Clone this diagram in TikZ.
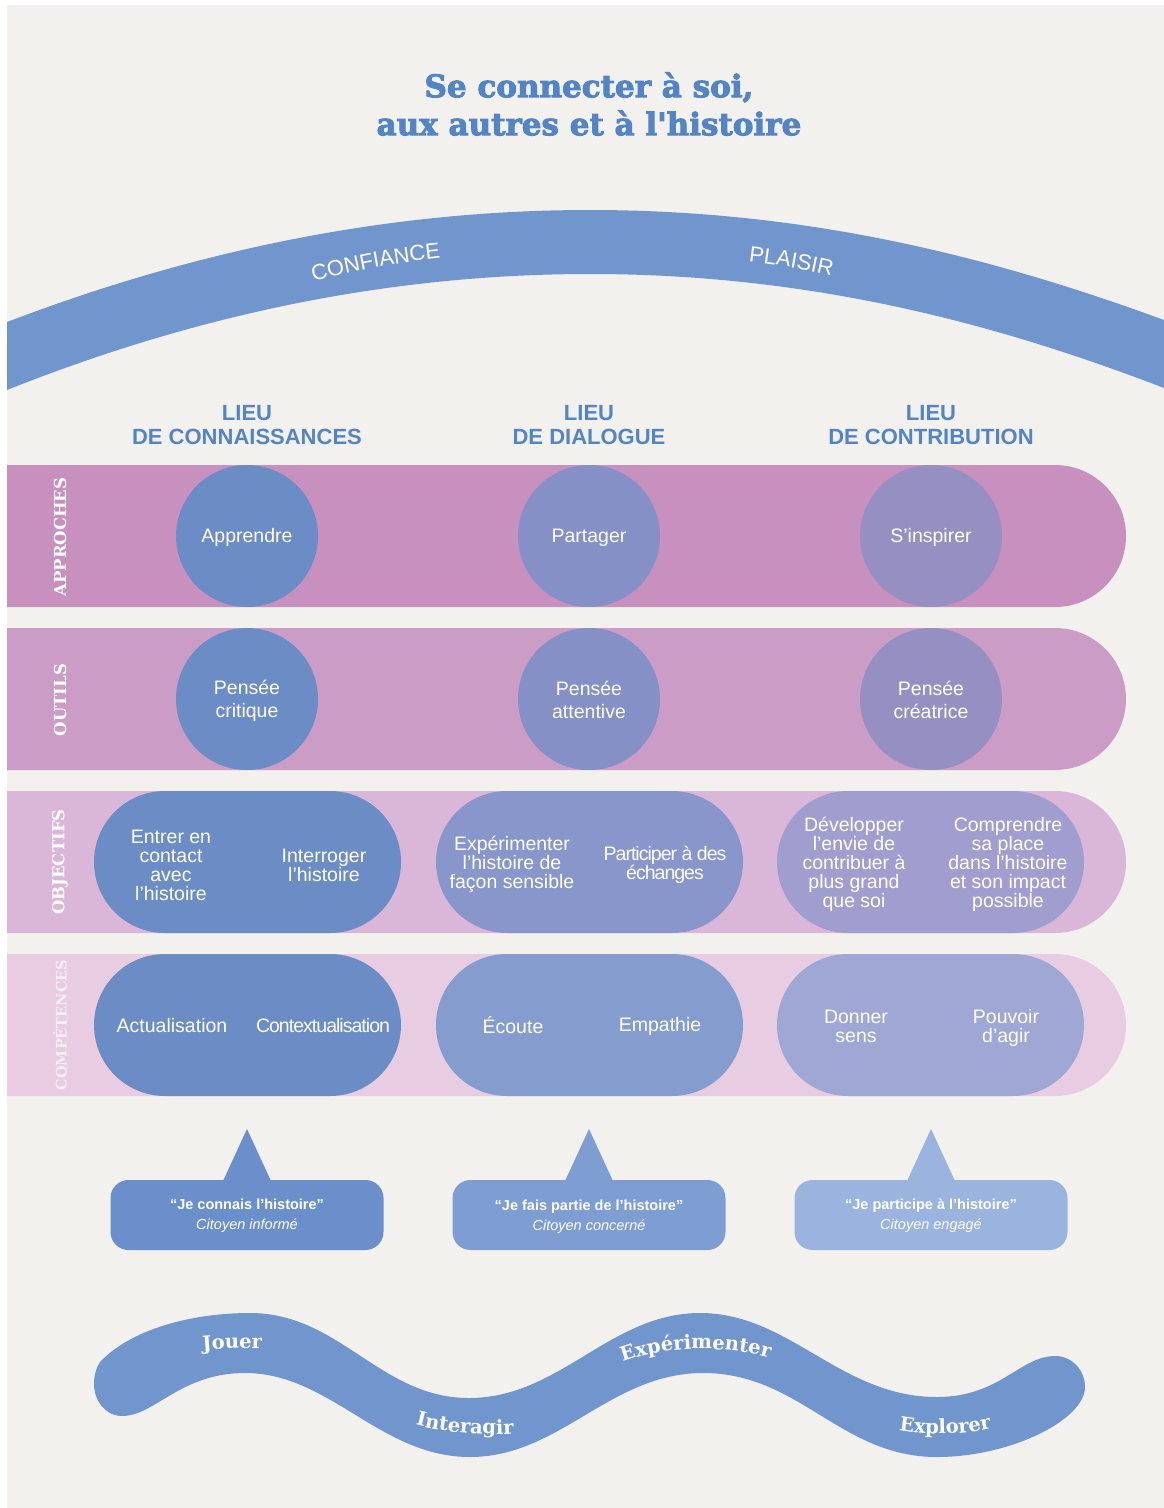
\documentclass[tikz,border=0pt]{standalone}
\usepackage{fontspec}
\setmainfont{Liberation Sans}
\newfontfamily\slabfont{DejaVu Serif}[BoldFont={DejaVu Serif Bold}]
\newfontfamily\titlefont{DejaVu Serif}[BoldFont={DejaVu Serif Bold},BoldFeatures={FakeBold=3}]
\usetikzlibrary{decorations.text}
\definecolor{paper}{HTML}{F3F1EE}
\definecolor{archblue}{HTML}{7196CD}
\definecolor{titleblue}{HTML}{5384C4}
\definecolor{rowa}{HTML}{C790BE}
\definecolor{rowb}{HTML}{CB9DC6}
\definecolor{rowc}{HTML}{DAB7D9}
\definecolor{rowd}{HTML}{E8CDE2}
\definecolor{cola}{HTML}{6B8CC5}
\definecolor{colb}{HTML}{8490C6}
\definecolor{colc}{HTML}{9690C2}
\definecolor{pillb}{HTML}{8896CC}
\definecolor{pillc}{HTML}{A09ECF}
\definecolor{compb}{HTML}{859CCF}
\definecolor{compc}{HTML}{9FA8D5}
\definecolor{calla}{HTML}{6B8FCB}
\definecolor{callb}{HTML}{7E9DD3}
\definecolor{callc}{HTML}{9AB4DF}
\newcommand{\hs}{\rule{0pt}{18pt}}
\newcommand{\ds}{\rule[-3pt]{0pt}{3pt}}
\newcommand{\tight}{\addfontfeature{LetterSpace=-5}}
\tikzset{
  x=1pt,y=-1pt,
  whitetext/.style={text=white,align=center,inner sep=0pt,font=\fontsize{19.5}{23}\selectfont},
  pilltext/.style={text=white,align=center,inner sep=0pt,font=\fontsize{19.5}{19}\selectfont},
  headtext/.style={text=titleblue,align=center,inner sep=0pt,font=\fontsize{22}{24}\selectfont\bfseries},
  rowlabel/.style={text=white,rotate=90,inner sep=0pt,font=\fontsize{16.5}{17}\slabfont\bfseries},
  disc/.style={circle,minimum size=142pt,inner sep=0pt,text=white,align=center,font=\fontsize{19.5}{23}\selectfont},
  calltext/.style={text=white,align=center,inner sep=0pt,font=\fontsize{14.5}{21}\selectfont},
  curvetext/.style={decorate},
}
\newcommand{\rowband}[3]{\fill[#1] (7,#2) [rounded corners=71pt] -- (1126,#2) -- (1126,#3) [sharp corners] -- (7,#3) -- cycle;}
\newcommand{\pillshape}[3]{\fill[#1,rounded corners=71pt] (#2,#3) rectangle ++(307,142);}
\newcommand{\bubble}[3]{\fill[#1] (#2,1129) -- (#2+24,1181) -- (#2-24,1181) -- cycle;
  \fill[#1,rounded corners=18pt] (#2-136.5,#3) rectangle (#2+136.5,1250);}
\newcommand{\qline}[1]{{\fontsize{14.5}{21}\selectfont\bfseries #1}}
\begin{document}
\begin{tikzpicture}
\useasboundingbox (0,0) rectangle (1164,1508);
\fill[white] (0,0) rectangle (1164,1508);
\fill[paper] (7,5) rectangle (1164,1508);

\node[align=center,inner sep=0pt,text=titleblue,font=\fontsize{31}{38}\titlefont\bfseries] (title) at (589,104) {Se connecter à soi,\\aux autres et à l'histoire};

% arch
\fill[archblue] (7,322) .. controls (175,258) and (370,210) .. (590,210)
  .. controls (810,210) and (995,258) .. (1164,320) -- (1164,388)
  .. controls (995,323) and (810,274) .. (590,274)
  .. controls (370,274) and (175,323) .. (7,390) -- cycle;
\path[curvetext,decoration={text along path,text align=center,text color=white,
  text={|\fontsize{22}{24}\selectfont|CONFIANCE}}] (300,286) .. controls (340,272) and (410,260) .. (455,257);
\path[curvetext,decoration={text along path,text align=center,text color=white,
  text={|\fontsize{22}{24}\selectfont|PLAISIR}}] (735,260) .. controls (770,263) and (810,270) .. (845,279);

\node[headtext] (h1) at (247,425) {LIEU\\DE CONNAISSANCES};
\node[headtext] (h2) at (589,425) {LIEU\\DE DIALOGUE};
\node[headtext] (h3) at (931,425) {LIEU\\DE CONTRIBUTION};

% bands
\rowband{rowa}{465}{607}
\rowband{rowb}{628}{770}
\rowband{rowc}{791}{933}
\rowband{rowd}{954}{1096}

\node[rowlabel] (l1) at (60,537) {APPROCHES};
\node[rowlabel] (l2) at (60,700) {OUTILS};
\node[rowlabel] (l3) at (60,862) {OBJECTIFS};
\node[rowlabel,text=white!65!rowd,font=\fontsize{14.5}{17}\slabfont\bfseries] (l4) at (60,1025) {COMPÉTENCES};

% discs
\node[disc,fill=cola] (a1) at (247,536) {\hs Apprendre\ds};
\node[disc,fill=colb] (a2) at (589,536) {\hs Partager\ds};
\node[disc,fill=colc] (a3) at (931,536) {\hs S'inspirer\ds};
\node[disc,fill=cola] (o1) at (247,699) {\hs Pensée\\critique\ds};
\node[disc,fill=colb] (o2) at (589,699) {\hs Pensée\\attentive\ds};
\node[disc,fill=colc] (o3) at (931,699) {\hs Pensée\\créatrice\ds};

% objectifs
\pillshape{cola}{94}{791}
\pillshape{pillb}{436}{791}
\pillshape{pillc}{777}{791}
\node[pilltext] (b1) at (171,865) {Entrer en\\contact\\avec\\l'histoire};
\node[pilltext] (b2) at (324,865) {Interroger\\l'histoire};
\node[pilltext] (b3) at (512,864) {Expérimenter\\l'histoire de\\façon sensible};
\node[pilltext] (b4) at (665,865) {\tight Participer à des\\\tight échanges};
\node[pilltext] (b5) at (854,864) {Développer\\l'envie de\\contribuer à\\plus grand\\que soi};
\node[pilltext] (b6) at (1008,864) {Comprendre\\sa place\\dans l'histoire\\et son impact\\possible};

% competences
\pillshape{cola}{94}{954}
\pillshape{compb}{436}{954}
\pillshape{compc}{777}{954}
\node[whitetext] (c1) at (172,1026) {Actualisation};
\node[whitetext] (c2) at (323,1026) {\tight Contextualisation};
\node[whitetext] (c3) at (513,1025) {Écoute};
\node[whitetext] (c4) at (660,1026) {Empathie};
\node[pilltext] (c5) at (856,1026) {Donner\\sens};
\node[pilltext] (c6) at (1006,1028) {Pouvoir\\d'agir};

% callouts
\bubble{calla}{247}{1180}
\bubble{callb}{589}{1180}
\bubble{callc}{931}{1180}
\node[calltext] (q1) at (247,1216) {\qline{“Je connais l'histoire”}\\[-1pt]\itshape Citoyen informé};
\node[calltext] (q2) at (589,1217) {\qline{“Je fais partie de l'histoire”}\\[-1pt]\itshape Citoyen concerné};
\node[calltext] (q3) at (931,1216) {\qline{“Je participe à l'histoire”}\\[-1pt]\itshape Citoyen engagé};

% wave
\fill[archblue] (100,1362)
  .. controls (130,1330) and (190,1313) .. (250,1313)
  .. controls (340,1313) and (380,1398) .. (469,1398)
  .. controls (560,1398) and (610,1313) .. (700,1313)
  .. controls (790,1313) and (840,1397) .. (937,1397)
  .. controls (1000,1397) and (1020,1356) .. (1055,1356)
  .. controls (1072,1356) and (1085,1370) .. (1085,1387)
  .. controls (1085,1420) and (1010,1457) .. (937,1457)
  .. controls (840,1457) and (800,1373) .. (703,1373)
  .. controls (610,1373) and (560,1457) .. (470,1457)
  .. controls (380,1457) and (330,1373) .. (245,1373)
  .. controls (180,1373) and (155,1416) .. (122,1416)
  .. controls (105,1416) and (94,1400) .. (94,1384)
  .. controls (94,1376) and (96,1368) .. (100,1362) -- cycle;
\path[curvetext,decoration={text along path,text align=center,text color=white,
  text={|\fontsize{19.5}{20}\slabfont\bfseries|Jouer}}] (180,1353) .. controls (210,1349) and (250,1347) .. (285,1349);
\path[curvetext,decoration={text along path,text align=center,text color=white,
  text={|\fontsize{19.5}{20}\slabfont\bfseries|Interagir}}] (400,1420) .. controls (435,1433) and (490,1437) .. (530,1432);
\path[curvetext,decoration={text along path,text align=center,text color=white,
  text={|\fontsize{19.5}{20}\slabfont\bfseries|Expérimenter}}] (605,1370) .. controls (655,1343) and (735,1343) .. (788,1364);
\path[curvetext,decoration={text along path,text align=center,text color=white,
  text={|\fontsize{19.5}{20}\slabfont\bfseries|Explorer}}] (880,1426) .. controls (920,1437) and (970,1437) .. (1010,1422);
\end{tikzpicture}
\end{document}
